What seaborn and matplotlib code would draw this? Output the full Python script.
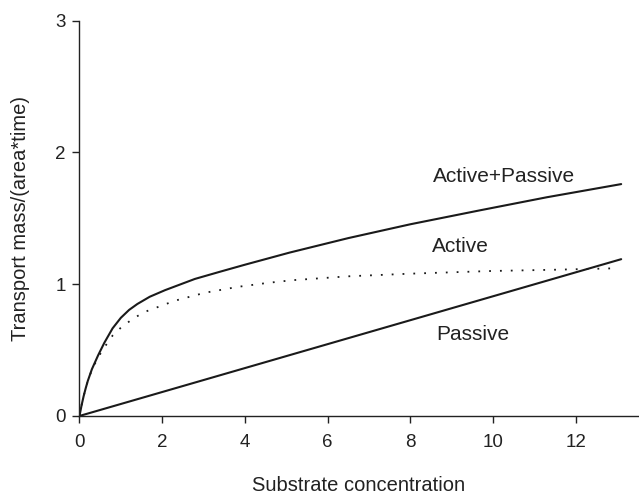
import matplotlib
matplotlib.use("Agg")
import matplotlib.pyplot as plt
import seaborn as sns
import pandas as pd

# Active+Passive (solid)
x_total = [0, 0.05, 0.1, 0.15, 0.2, 0.3, 0.45, 0.6, 0.8, 1.0, 1.2, 1.4, 1.7, 2.07, 2.79, 3.4, 4.0, 5.08, 6.5, 8.0, 9.67, 11.3, 13.1]
y_total = [0, 0.08, 0.15, 0.21, 0.265, 0.355, 0.46, 0.555, 0.665, 0.745, 0.805, 0.85, 0.905, 0.955, 1.04, 1.095, 1.148, 1.24, 1.35, 1.455, 1.56, 1.66, 1.76]

# Active (dotted)
x_active = [0, 0.05, 0.1, 0.15, 0.2, 0.3, 0.45, 0.6, 0.8, 1.0, 1.3, 1.58, 2.31, 3.03, 3.83, 4.55, 5.13, 6.5, 8.0, 9.92, 11.5, 12.85]
y_active = [0, 0.08, 0.15, 0.21, 0.265, 0.35, 0.445, 0.52, 0.61, 0.67, 0.74, 0.79, 0.875, 0.935, 0.98, 1.01, 1.03, 1.06, 1.08, 1.10, 1.11, 1.12]

# Passive (solid straight line)
x_passive = [0, 13.1]
y_passive = [0, 1.19]

labels = ["Active+Passive", "Active", "Passive"]
label_x = [8.54, 8.52, 8.62]
label_y = [1.82, 1.29, 0.62]

x_ticks = [0, 2, 4, 6, 8, 10, 12]
y_ticks = [0, 1, 2, 3]

sns.set_style("ticks")
plt.rcParams["font.family"] = ["Liberation Sans", "DejaVu Sans"]

fig = plt.figure(figsize=(6.39, 4.94), dpi=100)
ax = fig.add_axes([0.1244, 0.158, 0.8736, 0.80])

df_t = pd.DataFrame({"x": x_total, "y": y_total})
df_a = pd.DataFrame({"x": x_active, "y": y_active})
df_p = pd.DataFrame({"x": x_passive, "y": y_passive})

sns.lineplot(data=df_t, x="x", y="y", ax=ax, color="#1a1a1a", lw=1.5, sort=False, estimator=None)
sns.lineplot(data=df_a, x="x", y="y", ax=ax, color="#1a1a1a", lw=1.3, sort=False, estimator=None)
ax.lines[-1].set_linestyle((0, (1, 5)))
sns.lineplot(data=df_p, x="x", y="y", ax=ax, color="#1a1a1a", lw=1.5, sort=False, estimator=None)

for t, lx, ly in zip(labels, label_x, label_y):
    ax.text(lx, ly, t, fontsize=15, color="#222222", ha="left", va="center")

ax.set_xlim(0, 13.5)
ax.set_ylim(0, 3)
ax.set_xticks(x_ticks)
ax.set_yticks(y_ticks)
ax.tick_params(axis="both", labelsize=13.5, length=5, width=1, direction="out", colors="#222222")
ax.tick_params(axis="x", pad=8)
ax.tick_params(axis="y", pad=5)
sns.despine(ax=ax)
for s in ["left", "bottom"]:
    ax.spines[s].set_linewidth(1.0)
    ax.spines[s].set_color("#222222")

ax.set_xlabel("Substrate concentration", fontsize=14.5, color="#222222", labelpad=18)
ax.set_ylabel("Transport mass/(area*time)", fontsize=14.5, color="#222222", labelpad=18)

fig.savefig("out.png", dpi=100)
